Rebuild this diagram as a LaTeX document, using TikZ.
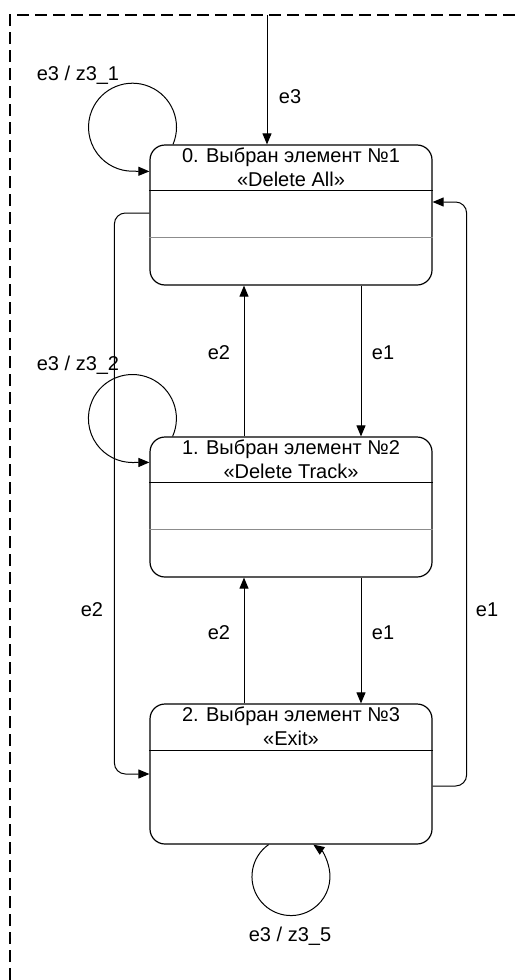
\documentclass[tikz,border=0pt]{standalone}
\usepackage{fontspec}
\setmainfont{Liberation Sans}
\usetikzlibrary{arrows.meta}
\begin{document}
\begin{tikzpicture}[x=1pt,y=1pt,
  state/.style={draw, line width=1.2pt, rounded corners=15pt, minimum width=282pt, minimum height=140pt, inner sep=0pt},
  head/.style={font=\fontsize{20}{24}\selectfont, align=center, inner sep=0pt},
  lbl/.style={font=\fontsize{20}{24}\selectfont, inner sep=0pt},
  arr/.style={line width=1pt, -{Triangle[length=11pt,width=9pt]}},
  sep/.style={line width=1.2pt},
  gsep/.style={line width=1.4pt, draw=black!45}]
\useasboundingbox (0,0) rectangle (520,-980);
% frame
\coordinate (fbl) at (10,-980);
\coordinate (ftl) at (10,-15);
\coordinate (ftr) at (520,-15);
\draw[line width=1.5pt, dash pattern=on 12pt off 6pt] (fbl) -- (ftl) -- (ftr);
% states
\node[state] (s0) at (291,-215) {};
\node[state] (s1) at (291,-507) {};
\node[state] (s2) at (291,-774) {};
\node[head] (s0t) at (291,-167) {0. Выбран элемент №1\\«Delete All»};
\node[head] (s1t) at (291,-459) {1. Выбран элемент №2\\«Delete Track»};
\node[head] (s2t) at (291,-726) {2. Выбран элемент №3\\«Exit»};
% separators
\draw[sep] ([yshift=-46pt]s0.north west) -- ([yshift=-46pt]s0.north east);
\draw[gsep] ([yshift=-93pt]s0.north west) -- ([yshift=-93pt]s0.north east);
\draw[sep] ([yshift=-46pt]s1.north west) -- ([yshift=-46pt]s1.north east);
\draw[gsep] ([yshift=-93pt]s1.north west) -- ([yshift=-93pt]s1.north east);
\draw[sep] ([yshift=-47pt]s2.north west) -- ([yshift=-47pt]s2.north east);
% initial
\coordinate (init) at (267,-15);
\draw[arr] (init) -- ([xshift=-24pt]s0.north);
\node[lbl] (le3) at (290,-97) {e3};
% vertical transitions
\draw[arr] ([xshift=70pt]s0.south) -- ([xshift=70pt]s1.north);
\draw[arr] ([xshift=-47pt]s1.north) -- ([xshift=-47pt]s0.south);
\draw[arr] ([xshift=70pt]s1.south) -- ([xshift=70pt]s2.north);
\draw[arr] ([xshift=-47pt]s2.north) -- ([xshift=-47pt]s1.south);
\node[lbl] (l01) at (383,-353) {e1};
\node[lbl] (l10) at (219,-353) {e2};
\node[lbl] (l12) at (383,-633) {e1};
\node[lbl] (l21) at (219,-633) {e2};
% outer transitions
\draw[arr, rounded corners=11pt] ([yshift=2pt]s0.west) -- ++(-35,0) |- (s2.west);
\draw[arr, rounded corners=11pt] ([yshift=-12pt]s2.east) -- ++(34,0) |- ([yshift=13pt]s0.east);
\node[lbl] (l02) at (92,-610) {e2};
\node[lbl] (l20) at (487,-610) {e1};
% self loops
\draw[arr] ([xshift=23.6pt]s0.north west) arc[start angle=-23, end angle=270, radius=44] -- ([yshift=-27pt]s0.north west);
\node[lbl] (ll0) at (78,-75) {e3 / z3\_1};
\draw[arr] ([xshift=23.2pt]s1.north west) arc[start angle=-24, end angle=270, radius=44] -- ([yshift=-26pt]s1.north west);
\node[lbl] (ll1) at (78,-365) {e3 / z3\_2};
\draw[arr] ([xshift=-22.4pt]s2.south) arc[start angle=125, end angle=415, radius=39];
\node[lbl] (ll2) at (290,-936) {e3 / z3\_5};
\end{tikzpicture}
\end{document}
